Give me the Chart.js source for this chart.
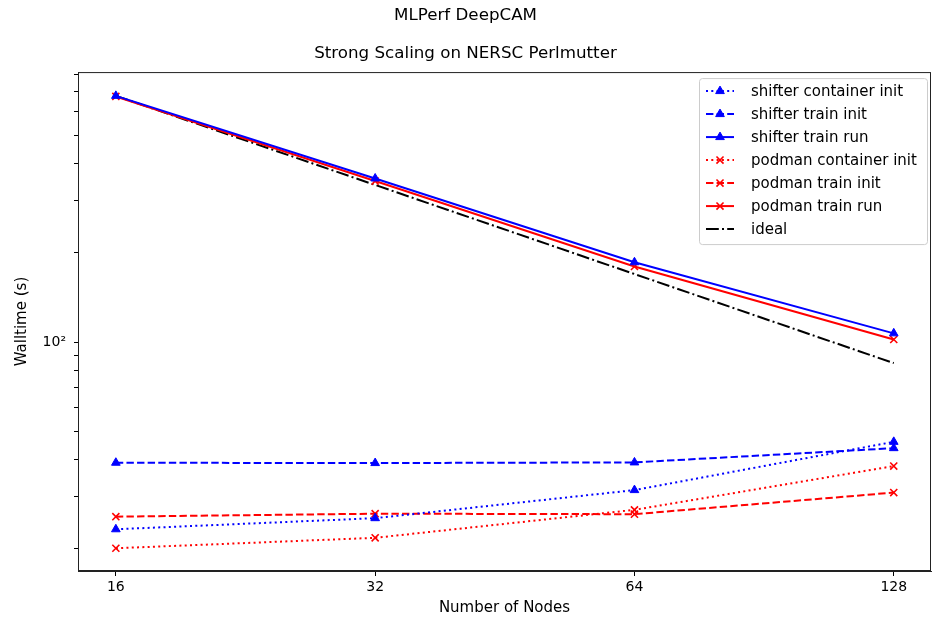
<!DOCTYPE html>
<html>
<head>
<meta charset="utf-8">
<script src="https://cdn.jsdelivr.net/npm/chart.js@4"></script>
<style>
  html, body { margin: 0; padding: 0; background: #fff; }
  canvas { display: block; }
</style>
</head>
<body>
<canvas id="c" width="932" height="620"></canvas>
<script>
// ---- data ----
const nodes = [16, 32, 64, 128];
const shifterContainerInit = [23.3, 25.4, 31.6, 46.0];
const shifterTrainInit     = [39.1, 39.0, 39.2, 43.8];
const shifterTrainRun      = [679, 357, 186, 107];
const podmanContainerInit  = [20.1, 21.8, 27.1, 38.1];
const podmanTrainInit      = [25.7, 26.3, 26.2, 31.0];
const podmanTrainRun       = [676, 350, 180, 102];
const ideal                = [679, 339.5, 169.75, 84.9];

const xTickValues = [16, 32, 64, 128];
const xTickLabels = ['16', '32', '64', '128'];
const yTickValues = [20, 30, 40, 50, 60, 70, 80, 90, 100, 200, 300, 400, 500, 600, 700, 800];
const yTickLabels = ['', '', '', '', '', '', '', '', '10\u00B2', '', '', '', '', '', '', ''];

const seriesNames = ['shifter container init', 'shifter train init', 'shifter train run',
                     'podman container init', 'podman train init', 'podman train run', 'ideal'];

// ---- styles ----
const BLUE = 'rgb(0,0,255)', RED = 'rgb(255,0,0)', BLACK = 'rgb(0,0,0)';
const DOT = [2, 3.3], DASH = [7.4, 3.2], DASHDOT = [12.8, 3.2, 2, 3.2];
const FONT = 'DejaVu Sans';

function pts(arr) { return nodes.map((x, i) => ({ x: x, y: arr[i] })); }
function ds(label, arr, color, dash, marker) {
  return {
    label: label, data: pts(arr),
    borderColor: color, backgroundColor: color, borderWidth: 2, borderDash: dash,
    pointStyle: marker || false, pointRadius: marker ? 5 : 0,
    pointBorderWidth: marker === 'crossRot' ? 1.6 : 1,
    pointBackgroundColor: color, pointBorderColor: color,
    tension: 0, fill: false
  };
}

const datasets = [
  ds(seriesNames[0], shifterContainerInit, BLUE, DOT, 'triangle'),
  ds(seriesNames[1], shifterTrainInit, BLUE, DASH, 'triangle'),
  ds(seriesNames[2], shifterTrainRun, BLUE, [], 'triangle'),
  ds(seriesNames[3], podmanContainerInit, RED, DOT, 'crossRot'),
  ds(seriesNames[4], podmanTrainInit, RED, DASH, 'crossRot'),
  ds(seriesNames[5], podmanTrainRun, RED, [], 'crossRot'),
  ds(seriesNames[6], ideal, BLACK, DASHDOT, null)
];

const frame = {
  id: 'frame',
  afterDatasetsDraw(chart) {
    const { ctx, chartArea: a } = chart;
    ctx.save();
    ctx.strokeStyle = '#222';
    ctx.lineWidth = 1;
    ctx.strokeRect(a.left + 0.5, a.top + 0.5, a.right - a.left - 1, a.bottom - a.top - 1);
    ctx.restore();
  }
};

const insideLegend = {
  id: 'insideLegend',
  afterDraw(chart) {
    const { ctx, chartArea: a } = chart;
    const boxW = 228, boxH = 166;
    const bx = a.right - 4 - boxW, by = a.top + 6;
    ctx.save();
    ctx.beginPath();
    ctx.roundRect(bx + 0.5, by + 0.5, boxW, boxH, 3);
    ctx.fillStyle = 'rgba(255,255,255,0.8)';
    ctx.fill();
    ctx.strokeStyle = '#cccccc';
    ctx.lineWidth = 1;
    ctx.stroke();
    ctx.font = '15px "' + FONT + '"';
    ctx.textBaseline = 'middle';
    chart.data.datasets.forEach((d, i) => {
      const y = by + 13 + i * 23;
      const x0 = bx + 7, x1 = bx + 35;
      ctx.save();
      ctx.strokeStyle = d.borderColor;
      ctx.lineWidth = d.borderWidth;
      ctx.setLineDash(d.borderDash || []);
      ctx.beginPath();
      ctx.moveTo(x0, y); ctx.lineTo(x1, y);
      ctx.stroke();
      ctx.restore();
      if (d.pointStyle) {
        ctx.save();
        ctx.strokeStyle = d.pointBorderColor;
        ctx.fillStyle = d.pointBackgroundColor;
        ctx.lineWidth = d.pointBorderWidth;
        Chart.helpers.drawPoint(ctx, { pointStyle: d.pointStyle, radius: d.pointRadius, rotation: 0, borderWidth: d.pointBorderWidth }, (x0 + x1) / 2, y);
        ctx.restore();
      }
      ctx.fillStyle = '#000';
      ctx.fillText(d.label, bx + 52, y + 1);
    });
    ctx.restore();
  }
};

new Chart(document.getElementById('c'), {
  type: 'line',
  data: { datasets: datasets },
  plugins: [frame, insideLegend],
  options: {
    responsive: false,
    animation: false,
    devicePixelRatio: 1,
    layout: { autoPadding: false, padding: { left: 0, right: 1, top: 0, bottom: 0 } },
    plugins: {
      legend: { display: false },
      tooltip: { enabled: false },
      title: {
        display: true, text: 'MLPerf DeepCAM', color: '#000',
        font: { family: FONT, size: 16.7, weight: 'normal' },
        padding: { top: 6, bottom: 18 }
      },
      subtitle: {
        display: true, text: 'Strong Scaling on NERSC Perlmutter', color: '#000',
        font: { family: FONT, size: 16.7, weight: 'normal' },
        padding: { top: 0, bottom: 8 }
      }
    },
    scales: {
      x: {
        type: 'logarithmic', min: 14.46, max: 141.4,
        afterBuildTicks: (s) => { s.ticks = xTickValues.map(v => ({ value: v })); },
        afterFit: (s) => { s.height = 49; s.paddingLeft = 0; s.paddingRight = 0; },
        ticks: {
          callback: (v) => { const i = xTickValues.indexOf(v); return i >= 0 ? xTickLabels[i] : ''; },
          color: '#000', font: { family: FONT, size: 14 }, maxRotation: 0, autoSkip: false, padding: 3
        },
        grid: { drawOnChartArea: false, drawTicks: true, tickLength: 5, color: '#000' },
        border: { display: true, color: '#222' },
        title: { display: true, text: 'Number of Nodes', color: '#000', font: { family: FONT, size: 15 }, padding: { top: 0, bottom: 3 } }
      },
      y: {
        type: 'logarithmic', min: 16.84, max: 817,
        afterBuildTicks: (s) => { s.ticks = yTickValues.map(v => ({ value: v })); },
        afterFit: (s) => { s.width = 78; s.paddingTop = 0; s.paddingBottom = 0; },
        ticks: {
          callback: (v) => { const i = yTickValues.indexOf(v); return i >= 0 ? yTickLabels[i] : ''; },
          color: '#000', font: { family: FONT, size: 14 }, autoSkip: false, padding: 8
        },
        grid: { drawOnChartArea: false, drawTicks: true, tickLength: 4, color: '#000' },
        border: { display: true, color: '#222' },
        title: { display: true, text: 'Walltime (s)', color: '#000', font: { family: FONT, size: 15 }, padding: { top: 13, bottom: 0 } }
      }
    }
  }
});
</script>
</body>
</html>
